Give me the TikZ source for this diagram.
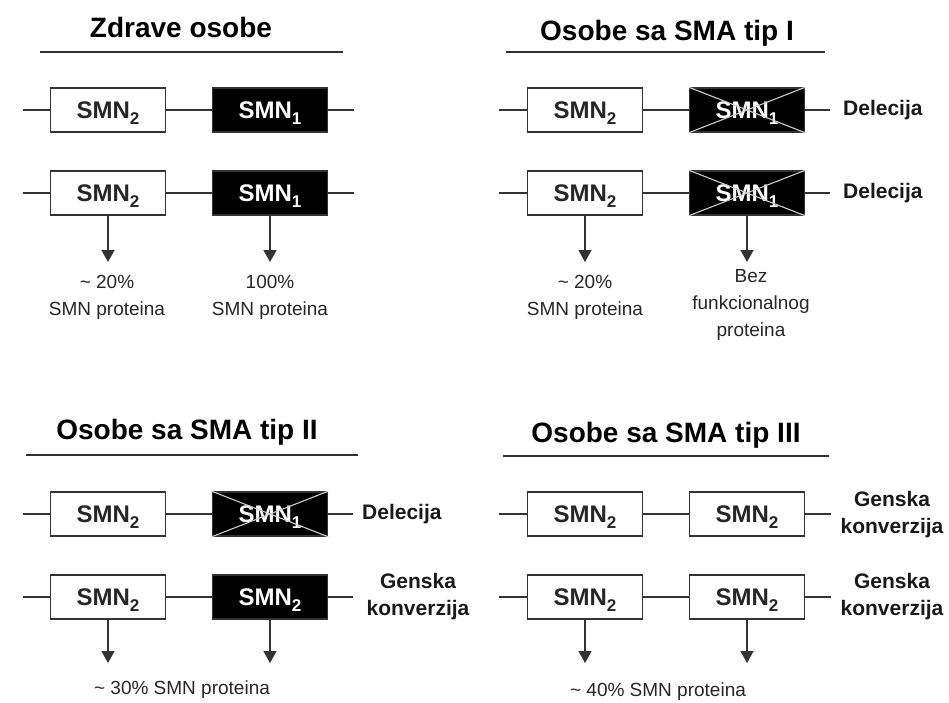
\documentclass[tikz,border=0pt]{standalone}
\usepackage{fontspec}
\setmainfont{Liberation Sans}
\usepackage{xcolor}
\colorlet{colorLine}{black!80}
\colorlet{colorCross}{black!20}
\colorlet{colorText}{black!85}
\usepackage{tikz}
\usetikzlibrary{arrows.meta, positioning}
\newcommand{\smngene}[1]{SMN\raisebox{-6pt}[0pt][0pt]{\fontsize{17}{17}\selectfont #1}}
\tikzset{gene/.style={draw=colorLine, line width=1.6pt, fill=white, minimum width=115pt, minimum height=44pt, inner sep=0pt, font=\fontsize{24}{24}\selectfont\bfseries, text=black!85},
  genedark/.style={gene, fill=black, text=white},
  heading/.style={font=\fontsize{28}{28}\selectfont\bfseries},
  note/.style={font=\fontsize{21}{27}\selectfont\bfseries, align=center, text=black!90},
  yieldtext/.style={font=\fontsize{19}{27}\selectfont, align=center, text=colorText},
  wire/.style={colorLine, line width=1.6pt},
  struck/.style={colorCross, line width=1.1pt},
  prod/.style={colorLine, line width=1.4pt, -{Triangle[width=13pt,length=12pt]}}}

\begin{document}
\begin{tikzpicture}[x=1pt, y=-1pt]
\useasboundingbox (0,0) rectangle (949,702);
% Zdrave osobe
\node[heading] (ht) at (181,27) {Zdrave osobe};
\coordinate (hs) at (40,52); \coordinate (he) at (343,52);
\draw[wire] (hs) -- (he);
\node[gene] (h11) at (108,110) {\smngene{2}};
\node[genedark] (h12) at (270,110) {\smngene{1}};
\node[gene] (h21) at (108,193) {\smngene{2}};
\node[genedark] (h22) at (270,193) {\smngene{1}};
\coordinate (hl1) at (23,110); \coordinate (hr1) at (354,110);
\coordinate (hl2) at (23,193); \coordinate (hr2) at (354,193);
\draw[wire] (hl1) -- (h11) -- (h12) -- (hr1);
\draw[wire] (hl2) -- (h21) -- (h22) -- (hr2);
\coordinate (hp1) at (108,262); \coordinate (hp2) at (270,262);
\draw[prod] (h21) -- (hp1);
\draw[prod] (h22) -- (hp2);
\node[yieldtext] (hy1) at (107,297) {\textasciitilde{} 20\%\\SMN proteina};
\node[yieldtext] (hy2) at (270,297) {100\%\\SMN proteina};
% Osobe sa SMA tip I
\node[heading] (at) at (667,33) {Osobe sa SMA tip I};
\coordinate (as) at (506,52); \coordinate (ae) at (825,52);
\draw[wire] (as) -- (ae);
\node[gene] (a11) at (585,110) {\smngene{2}};
\node[genedark] (a12) at (747,110) {\smngene{1}};
\node[gene] (a21) at (585,193) {\smngene{2}};
\node[genedark] (a22) at (747,193) {\smngene{1}};
\draw[struck] (a12.north west) -- (a12.south east) (a12.north east) -- (a12.south west);
\draw[struck] (a22.north west) -- (a22.south east) (a22.north east) -- (a22.south west);
\node[note, anchor=west, inner xsep=13pt] (ad1) at (830,110) {Delecija};
\node[note, anchor=west, inner xsep=13pt] (ad2) at (830,193) {Delecija};
\coordinate (al1) at (499,110); \coordinate (al2) at (499,193);
\draw[wire] (al1) -- (a11) -- (a12) -- (ad1);
\draw[wire] (al2) -- (a21) -- (a22) -- (ad2);
\coordinate (ap1) at (585,262); \coordinate (ap2) at (747,262);
\draw[prod] (a21) -- (ap1);
\draw[prod] (a22) -- (ap2);
\node[yieldtext] (ay1) at (585,297) {\textasciitilde{} 20\%\\SMN proteina};
\node[yieldtext] (ay2) at (751,305) {Bez\\funkcionalnog\\proteina};
% Osobe sa SMA tip II
\node[heading] (bt) at (187,432) {Osobe sa SMA tip II};
\coordinate (bs) at (26,455); \coordinate (be) at (358,455);
\draw[wire] (bs) -- (be);
\node[gene] (b11) at (108,514) {\smngene{2}};
\node[genedark] (b12) at (270,514) {\smngene{1}};
\node[gene] (b21) at (108,597) {\smngene{2}};
\node[genedark] (b22) at (270,597) {\smngene{2}};
\draw[struck] (b12.north west) -- (b12.south east) (b12.north east) -- (b12.south west);
\node[note, anchor=west, inner xsep=9pt] (bd1) at (353,514) {Delecija};
\node[note] (bg2) at (418,597) {Genska\\konverzija};
\coordinate (bl1) at (23,514); \coordinate (bl2) at (23,597); \coordinate (br2) at (353,597);
\draw[wire] (bl1) -- (b11) -- (b12) -- (bd1);
\draw[wire] (bl2) -- (b21) -- (b22) -- (br2);
\coordinate (bp1) at (108,663); \coordinate (bp2) at (270,663);
\draw[prod] (b21) -- (bp1);
\draw[prod] (b22) -- (bp2);
\node[yieldtext] (by) at (182,690) {\textasciitilde{} 30\% SMN proteina};
% Osobe sa SMA tip III
\node[heading] (ct) at (666,435) {Osobe sa SMA tip III};
\coordinate (cs) at (503,456); \coordinate (ce) at (829,456);
\draw[wire] (cs) -- (ce);
\node[gene] (c11) at (585,514) {\smngene{2}};
\node[gene] (c12) at (747,514) {\smngene{2}};
\node[gene] (c21) at (585,597) {\smngene{2}};
\node[gene] (c22) at (747,597) {\smngene{2}};
\node[note] (cg1) at (892,515) {Genska\\konverzija};
\node[note] (cg2) at (892,597) {Genska\\konverzija};
\coordinate (cl1) at (499,514); \coordinate (cr1) at (831,514);
\coordinate (cl2) at (499,597); \coordinate (cr2) at (831,597);
\draw[wire] (cl1) -- (c11) -- (c12) -- (cr1);
\draw[wire] (cl2) -- (c21) -- (c22) -- (cr2);
\coordinate (cp1) at (585,663); \coordinate (cp2) at (747,663);
\draw[prod] (c21) -- (cp1);
\draw[prod] (c22) -- (cp2);
\node[yieldtext] (cy) at (658,692) {\textasciitilde{} 40\% SMN proteina};
\end{tikzpicture}
\end{document}
